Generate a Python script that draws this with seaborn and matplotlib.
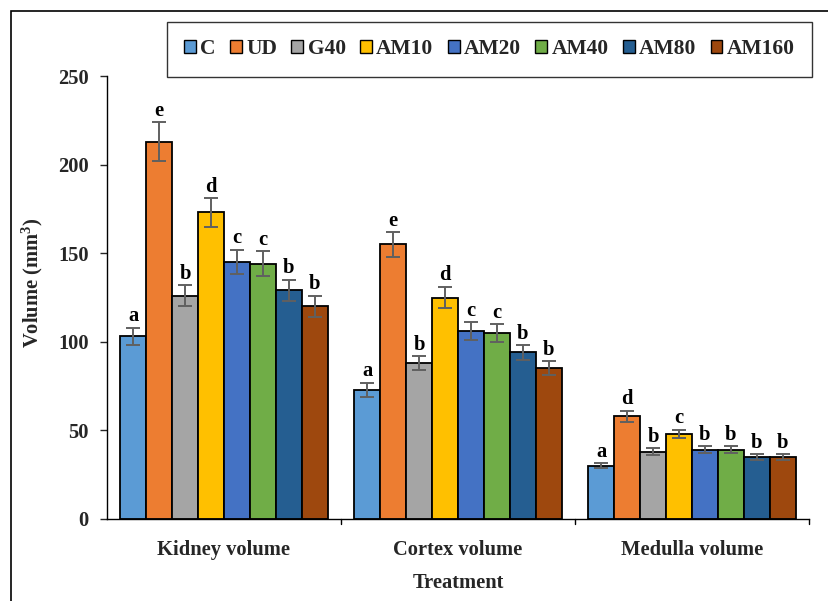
import matplotlib
matplotlib.use("Agg")
import matplotlib.pyplot as plt
import seaborn as sns
import pandas as pd
import numpy as np
from matplotlib.patches import Rectangle, Patch

regions = ["Kidney volume", "Cortex volume", "Medulla volume"]
groups = ["C", "UD", "G40", "AM10", "AM20", "AM40", "AM80", "AM160"]
kidney = [103, 213, 126, 173, 145, 144, 129, 120]
cortex = [73, 155, 88, 125, 106, 105, 94, 85]
medulla = [30, 58, 38, 48, 39, 39, 35, 35]
kidney_err = [5, 11, 6, 8, 7, 7, 6, 6]
cortex_err = [4, 7, 4, 6, 5, 5, 4, 4]
medulla_err = [1.5, 3, 2, 2.5, 2, 2, 1.5, 1.5]
kidney_sig = ["a", "e", "b", "d", "c", "c", "b", "b"]
cortex_sig = ["a", "e", "b", "d", "c", "c", "b", "b"]
medulla_sig = ["a", "d", "b", "c", "b", "b", "b", "b"]
colors = ["#5B9BD5", "#ED7D31", "#A5A5A5", "#FFC000", "#4472C4", "#70AD47", "#255E91", "#9E480E"]
yticks = [0, 50, 100, 150, 200, 250]

values = [kidney, cortex, medulla]
errs = [kidney_err, cortex_err, medulla_err]
sigs = [kidney_sig, cortex_sig, medulla_sig]

rows = []
for r, vals in zip(regions, values):
    for g, v in zip(groups, vals):
        rows.append({"region": r, "group": g, "volume": v})
df = pd.DataFrame(rows)

sns.set_style("white")
plt.rcParams["font.family"] = ["Liberation Serif", "DejaVu Serif"]
plt.rcParams["font.weight"] = "bold"
plt.rcParams["mathtext.fontset"] = "custom"
plt.rcParams["mathtext.rm"] = "Liberation Serif:bold"
plt.rcParams["mathtext.it"] = "Liberation Serif:bold"
plt.rcParams["mathtext.bf"] = "Liberation Serif:bold"

FS = 14.8

fig = plt.figure(figsize=(8.29, 6.01), dpi=100)
ax = fig.add_axes([107/829, 1-519/601, (809-107)/829, (519-76)/601])

sns.barplot(data=df, x="region", y="volume", hue="group", order=regions,
            hue_order=groups, palette=colors, edgecolor="black", linewidth=1.3,
            width=0.885, errorbar=None, legend=False, ax=ax, saturation=1)

bar_containers = list(ax.containers)
for gi, cont in enumerate(bar_containers):
    for ri, bar in enumerate(cont.patches):
        cx = bar.get_x() + bar.get_width()/2
        h = bar.get_height()
        e = errs[ri][gi]
        ax.errorbar(cx, h, yerr=e, color="#606060", capsize=5, elinewidth=1.4,
                    capthick=1.4, zorder=5)
        ax.text(cx, h + e + 0.8, sigs[ri][gi], ha="center", va="bottom",
                fontsize=FS, fontweight="bold", color="black")

ax.set_xlim(-0.5, 2.5)
ax.set_ylim(0, 250)
ax.set_yticks(yticks)
ax.set_yticklabels([str(t) for t in yticks], fontsize=FS, fontweight="bold")
ax.set_xticks([0, 1, 2])
ax.set_xticklabels(regions, fontsize=FS, fontweight="bold")
ax.tick_params(axis="x", length=0, pad=15)
ax.tick_params(axis="y", length=5, width=1, direction="out", left=True, pad=8)
for b in [0.5, 1.5, 2.5]:
    ax.plot([b, b], [0, -0.011], transform=ax.get_xaxis_transform(),
            color="black", lw=1, clip_on=False)
for s in ["top", "right"]:
    ax.spines[s].set_visible(False)
for s in ["left", "bottom"]:
    ax.spines[s].set_color("black")
    ax.spines[s].set_linewidth(1)

ax.set_xlabel("Treatment", fontsize=FS, fontweight="bold")
ax.xaxis.set_label_coords(0.5, -(583 - 519)/443, transform=ax.transAxes)
ax.xaxis.label.set_va("center")
ax.set_ylabel("Volume (mm$^{3}$)", fontsize=FS, fontweight="bold")
ax.yaxis.set_label_coords((32 - 107)/702, (519 - 283)/443, transform=ax.transAxes)
ax.yaxis.label.set_va("center")

handles = [Patch(facecolor=c, edgecolor="black", linewidth=1) for c in colors]
leg = fig.legend(handles, groups, ncol=8, loc="center", mode="expand",
                 bbox_to_anchor=(167/829, 1-76/601, 645/829, 53/601),
                 frameon=True, fancybox=False, edgecolor="black",
                 prop={"family": "Liberation Serif", "weight": "bold", "size": 15.5},
                 handlelength=0.55, handleheight=0.55, handletextpad=0.2,
                 columnspacing=0.5, borderpad=0.8, borderaxespad=0)
leg.get_frame().set_linewidth(1)

fig.add_artist(Rectangle((11/829, -0.1), 1.2, 1 - 11/601 + 0.1,
                         transform=fig.transFigure, fill=False,
                         edgecolor="black", linewidth=1.2))

fig.savefig("out.png", dpi=100)
